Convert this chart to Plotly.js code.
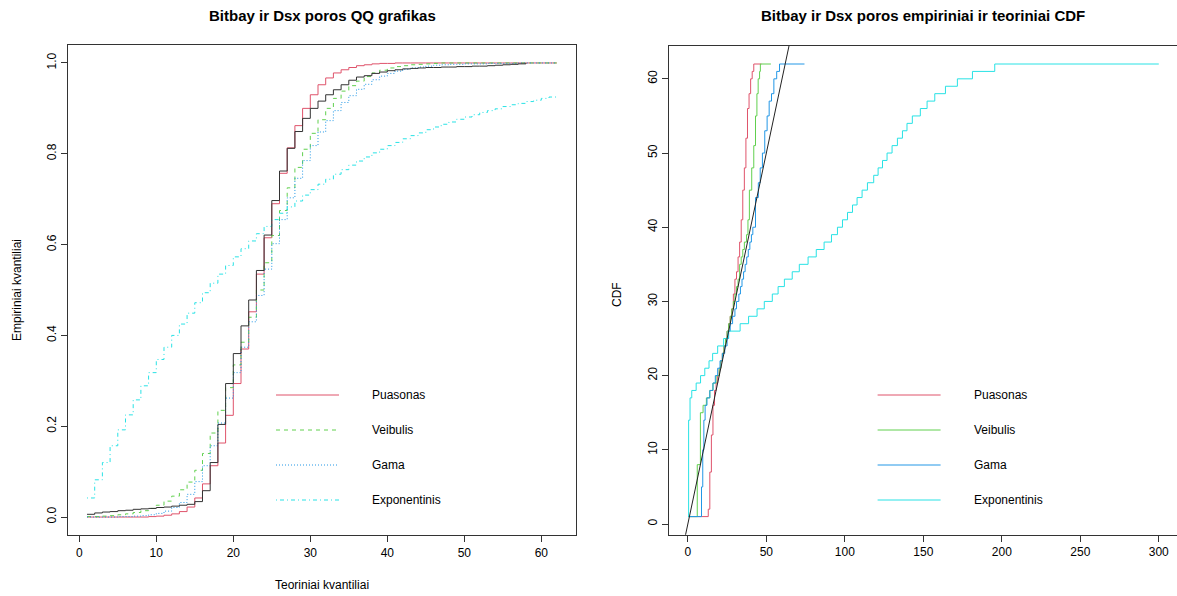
<!DOCTYPE html>
<html><head><meta charset="utf-8">
<script src="https://cdn.plot.ly/plotly-3.0.1.min.js"></script>
<style>html,body{margin:0;padding:0;background:#fff}#chart{width:1177px;height:596px}</style>
</head><body><div id="chart"></div>
<script>
// ---------- Left panel: CDF step curves evaluated at integer x ----------
const qqX = [1,2,3,4,5,6,7,8,9,10,11,12,13,14,15,16,17,18,19,20,21,22,23,24,25,26,27,28,29,30,31,32,33,34,35,36,37,38,39,40,41,42,43,44,45,46,47,48,49,50,51,52,53,54,55,56,57,58,59,60,61,62];
const empX = [1,2,3,4,5,6,7,8,9,10,11,12,13,14,15,16,17,18,19,20,21,22,23,24,25,26,27,28,29,30,31,32,33,34,35,36,37,38,39,40,41,42,43,44,45,46,47,48,49,50,51,52,53,54,55,56,57,58];
const empCdf = [0.006,0.009,0.011,0.012,0.014,0.015,0.017,0.018,0.019,0.021,0.022,0.024,0.026,0.028,0.034,0.058,0.120,0.204,0.294,0.360,0.421,0.478,0.543,0.621,0.697,0.762,0.812,0.849,0.878,0.900,0.916,0.930,0.941,0.952,0.962,0.969,0.972,0.977,0.980,0.983,0.985,0.987,0.988,0.989,0.990,0.990,0.991,0.991,0.992,0.992,0.993,0.993,0.994,0.995,0.996,0.997,0.998,1.000];
const poisCdf = [0,0,0,0,0,0,0,0,0.001,0.002,0.004,0.007,0.012,0.022,0.042,0.073,0.113,0.163,0.224,0.294,0.370,0.452,0.535,0.615,0.690,0.757,0.813,0.862,0.900,0.930,0.952,0.967,0.978,0.985,0.990,0.994,0.996,0.998,0.999,0.999,1,1,1,1,1,1,1,1,1,1,1,1,1,1,1,1,1,1,1,1,1,1];
const weibCdf = [0.001,0.001,0.002,0.003,0.005,0.007,0.010,0.014,0.019,0.026,0.035,0.046,0.060,0.077,0.103,0.140,0.185,0.235,0.285,0.335,0.385,0.440,0.500,0.560,0.620,0.675,0.725,0.770,0.810,0.845,0.875,0.900,0.922,0.938,0.950,0.960,0.970,0.978,0.984,0.989,0.992,0.994,0.996,0.997,0.998,0.999,1,1,1,1,1,1,1,1,1,1,1,1,1,1,1,1];
const gammaCdf = [0,0,0,0,0.001,0.001,0.002,0.003,0.005,0.008,0.013,0.021,0.032,0.050,0.078,0.113,0.157,0.207,0.262,0.318,0.374,0.430,0.488,0.546,0.602,0.655,0.703,0.746,0.785,0.818,0.848,0.873,0.895,0.913,0.928,0.942,0.953,0.963,0.971,0.977,0.982,0.986,0.989,0.991,0.993,0.995,0.996,0.997,0.997,0.998,0.998,0.998,0.999,0.999,0.999,0.999,1,1,1,1,1,1];
const expCdf = [0.042,0.082,0.120,0.157,0.192,0.225,0.258,0.289,0.318,0.347,0.374,0.400,0.425,0.449,0.472,0.494,0.515,0.535,0.554,0.573,0.591,0.608,0.624,0.640,0.655,0.669,0.683,0.696,0.709,0.721,0.733,0.744,0.755,0.765,0.775,0.784,0.793,0.802,0.810,0.818,0.825,0.833,0.840,0.846,0.853,0.859,0.865,0.870,0.876,0.881,0.886,0.891,0.895,0.899,0.904,0.908,0.911,0.915,0.918,0.922,0.925,0.928];

// ---------- Right panel: theoretical quantile (x) vs observed value (y) ----------
const poisQ   = [0.3,13,14,15,16,17,18,19,20,21,22,23,24,25,26,27,28,29,30,31,32,33,34,35,36,37,38,39,40,41,42,46.8];
const poisObs = [1,2,7,12,16,18,19,20,21,22,23,24,25,26,27,28,29,31,33,34,36,38,41,45,48,52,56,58,60,61,62,62];
const weibQ   = [0.3,6,8,9.7,11.8,14,16,18,20,21,22,23,24,25,26,27,28,29,30,31,32,33,34,35,36,37.4,38.3,39.2,40.7,42,43.1,44,44.8,45.7,46.2,52.9];
const weibObs = [1,8,15,16,17,18,19,20,21,22,23,24,25,26,27,28,29,30,31,32,33,35,36,37,38,39,41,45,48,51,55,58,60,61,62,62];
const gammaQ   = [0.3,8.7,9.5,10.2,11,12.2,14,16,17.5,19,20.5,22,23.5,25,26,27,28.5,30,31,32.5,33.5,34.5,35.5,36.5,37.5,38.5,39.5,40.5,41.4,43.1,44.9,46.1,47.5,49,50.5,51.8,53.3,54.8,56.6,58.4,74.3];
const gammaObs = [1,5,10,14,16,17,18,19,20,21,22,23,24,25,26,27,28,29,30,31,32,33,34,35,36,37,38,39,40,44,46,48,50,53,55,57,58,60,61,62,62];
const expQ   = [0.3,0.5,1.4,2.5,5.3,8.1,10.8,13.5,15.8,19,22.8,25.7,33.3,38.7,44.1,48.7,53.8,57.5,61.5,66.5,71,76.6,81.8,86.8,91.5,95.3,98.5,101.7,104.9,107.8,111,114.4,118.4,121.2,124,126.9,130.1,133.5,136.7,139.6,143,148.1,152.4,157.3,164.1,171.7,181.3,195.5,300];
const expObs = [1,14,17,18,19,20,21,22,23,24,25,26,27,28,29,30,31,32,33,34,35,36,37,38,39,40,41,42,43,44,45,46,47,48,49,50,51,52,53,54,55,56,57,58,59,60,61,62,62];
const abInterceptSlope = [0, 1];

const legendLabels = ['Puasonas','Veibulis','Gama','Exponentinis'];
const fitColors = ['#DF536B','#61D04F','#2297E6','#28E2E5'];
const fitDash = ['solid','4px,4px','1px,2px','1px,3px,4px,3px'];

const W = 1177, H = 596;
const px = v => v / W, py = v => 1 - v / H;

const traces = [];
const leftCdfs = [poisCdf, weibCdf, gammaCdf, expCdf];
leftCdfs.forEach((c, i) => traces.push({
  x: qqX, y: c, xaxis: 'x', yaxis: 'y', type: 'scatter', mode: 'lines',
  line: {shape: 'hv', color: fitColors[i], width: 1, dash: fitDash[i]}, showlegend: false, hoverinfo: 'skip'
}));
traces.push({x: empX, y: empCdf, xaxis: 'x', yaxis: 'y', type: 'scatter', mode: 'lines',
  line: {shape: 'hv', color: '#333', width: 1}, showlegend: false, hoverinfo: 'skip'});

const rq = [[poisQ, poisObs], [weibQ, weibObs], [gammaQ, gammaObs], [expQ, expObs]];
rq.forEach((p, i) => traces.push({
  x: p[0], y: p[1], xaxis: 'x2', yaxis: 'y2', type: 'scatter', mode: 'lines',
  line: {shape: 'hv', color: fitColors[i], width: 1}, showlegend: false, hoverinfo: 'skip'
}));
const abX = [-12, 312];
traces.push({x: abX, y: abX.map(v => abInterceptSlope[0] + abInterceptSlope[1] * v), xaxis: 'x2', yaxis: 'y2',
  type: 'scatter', mode: 'lines', line: {color: '#222', width: 1}, showlegend: false, hoverinfo: 'skip'});

const font = {family: 'Liberation Sans, Arial, sans-serif', size: 12, color: '#000'};
const axBase = {showgrid: false, zeroline: false, showline: true, mirror: true, linecolor: '#333', linewidth: 1,
  ticks: 'outside', ticklen: 6, tickcolor: '#333', tickfont: font, fixedrange: true};

const shapes = [], annotations = [];
const legRows = [395, 430, 465, 500];
const legends = [{l0: 276, l1: 339, t: 370, dashed: true}, {l0: 877.6, l1: 940.6, t: 971.6, dashed: false}];
legends.forEach(L => legendLabels.forEach((lab, i) => {
  shapes.push({type: 'line', xref: 'paper', yref: 'paper', x0: px(L.l0), x1: px(L.l1), y0: py(legRows[i]), y1: py(legRows[i]),
    line: {color: fitColors[i], width: 1, dash: L.dashed ? fitDash[i] : 'solid'}});
  annotations.push({xref: 'paper', yref: 'paper', x: px(L.t), y: py(legRows[i]), xanchor: 'left', yanchor: 'middle',
    text: lab, showarrow: false, font: font});
}));
const tfont = {family: 'Liberation Sans, Arial, sans-serif', size: 15, color: '#000'};
annotations.push({xref: 'paper', yref: 'paper', x: px(322), y: py(16), xanchor: 'center', yanchor: 'middle', showarrow: false,
  text: '<b>Bitbay ir Dsx poros QQ grafikas</b>', font: tfont});
annotations.push({xref: 'paper', yref: 'paper', x: px(923), y: py(16), xanchor: 'center', yanchor: 'middle', showarrow: false,
  text: '<b>Bitbay ir Dsx poros empiriniai ir teoriniai CDF</b>', font: tfont});
annotations.push({xref: 'paper', yref: 'paper', x: px(322), y: py(585), xanchor: 'center', yanchor: 'middle', showarrow: false,
  text: 'Teoriniai kvantiliai', font: font});
annotations.push({xref: 'paper', yref: 'paper', x: px(17), y: py(290), xanchor: 'center', yanchor: 'middle', showarrow: false,
  text: 'Empiriniai kvantiliai', textangle: -90, font: font});
annotations.push({xref: 'paper', yref: 'paper', x: px(617), y: py(295), xanchor: 'center', yanchor: 'middle', showarrow: false,
  text: 'CDF', textangle: -90, font: font});

const layout = {
  width: W, height: H, margin: {l: 0, r: 0, t: 0, b: 0}, paper_bgcolor: '#fff', plot_bgcolor: '#fff', showlegend: false,
  xaxis: Object.assign({}, axBase, {domain: [px(68.2), px(575.5)], range: [-1.44, 64.44], tickvals: [0,10,20,30,40,50,60], anchor: 'y'}),
  yaxis: Object.assign({}, axBase, {domain: [py(535.2), py(44.8)], range: [-0.04, 1.04], tickvals: [0,0.2,0.4,0.6,0.8,1],
    ticktext: ['0.0','0.2','0.4','0.6','0.8','1.0'], tickangle: -90, anchor: 'x'}),
  xaxis2: Object.assign({}, axBase, {domain: [px(669), 1], range: [-12, 311.6], tickvals: [0,50,100,150,200,250,300], anchor: 'y2'}),
  yaxis2: Object.assign({}, axBase, {domain: [py(534.7), py(45.9)], range: [-1.44, 64.44], tickvals: [0,10,20,30,40,50,60], tickangle: -90, anchor: 'x2', mirror: false}),
  shapes: shapes, annotations: annotations
};
Plotly.newPlot('chart', traces, layout, {staticPlot: true, displayModeBar: false});
</script></body></html>
